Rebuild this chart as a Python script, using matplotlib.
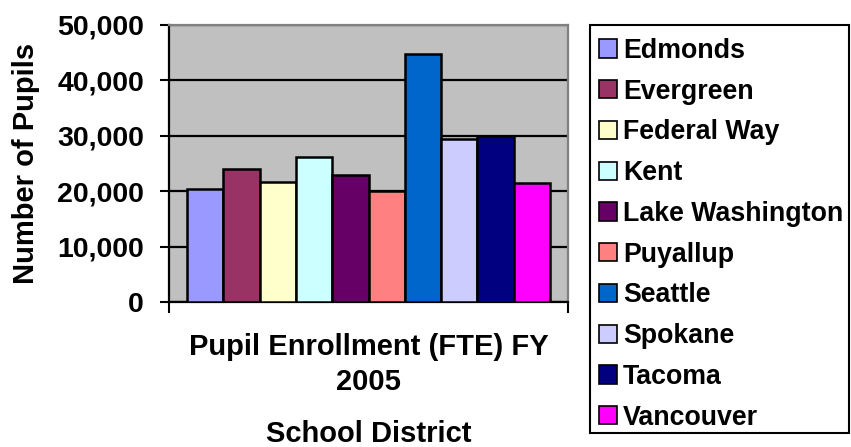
import matplotlib
matplotlib.use('Agg')
import matplotlib.pyplot as plt
from matplotlib.patches import Patch, Rectangle

districts = ['Edmonds', 'Evergreen', 'Federal Way', 'Kent', 'Lake Washington',
             'Puyallup', 'Seattle', 'Spokane', 'Tacoma', 'Vancouver']
pupils = [20400, 24000, 21700, 26200, 23000, 20000, 44700, 29500, 30000, 21400]
colors = ['#9999FF', '#993366', '#FFFFCC', '#CCFFFF', '#660066',
          '#FF8080', '#0066CC', '#CCCCFF', '#000080', '#FF00FF']
y_ticks = [0, 10000, 20000, 30000, 40000, 50000]
y_tick_labels = ['0', '10,000', '20,000', '30,000', '40,000', '50,000']
category = 'Pupil Enrollment (FTE) FY\n2005'

plt.rcParams['font.family'] = ['Liberation Sans', 'DejaVu Sans']
plt.rcParams['font.weight'] = 'bold'

W, H = 851, 447
fig = plt.figure(figsize=(W / 100, H / 100), dpi=100)
ax = fig.add_axes([169 / W, 1 - 302 / H, 399 / W, 277 / H])
ax.set_facecolor('#C0C0C0')

# one category, ten series side by side
for i, (name, val, c) in enumerate(zip(districts, pupils, colors)):
    ax.bar(i, val, width=1.0, color=c, edgecolor='black', linewidth=1.8,
           label=name, zorder=3)

ax.set_xlim(-1, 10)
ax.set_ylim(0, 50000)
ax.set_yticks(y_ticks)
ax.set_yticklabels(y_tick_labels, fontsize=20.5, fontweight='bold')
ax.yaxis.grid(True, color='black', linewidth=1.6, zorder=1)
ax.set_axisbelow(True)

ax.set_xticks([4.5])
ax.set_xticklabels([category], fontsize=21, fontweight='bold',
                   linespacing=1.32)
ax.set_xticks([-1, 10], minor=True)
ax.tick_params(axis='x', which='major', length=0, pad=22)
ax.tick_params(axis='x', which='minor', length=8, width=1.5, direction='out')
ax.tick_params(axis='y', length=6.5, width=1.5, pad=11.5)

ax.set_xlabel('School District', fontsize=21, fontweight='bold', va='baseline')
ax.xaxis.set_label_coords(368.5 / W, 1 - 442 / H, transform=fig.transFigure)
ax.set_ylabel('Number of Pupils', fontsize=21, fontweight='bold', labelpad=12)

for side in ['left', 'bottom']:
    ax.spines[side].set_color('black')
    ax.spines[side].set_linewidth(1.6)
for side in ['top', 'right']:
    ax.spines[side].set_color('#808080')
    ax.spines[side].set_linewidth(1.6)

handles = [Patch(facecolor=c, edgecolor='black', linewidth=1.2) for c in colors]
leg = fig.legend(handles, districts, loc='upper left',
                 bbox_to_anchor=(589 / W, 1 - 28 / H),
                 prop={'weight': 'bold', 'size': 19.3},
                 handlelength=0.67, handleheight=0.67, handletextpad=0.22,
                 labelspacing=0.55, borderpad=0.37, borderaxespad=0,
                 frameon=False)
fig.add_artist(Rectangle((590 / W, 1 - 433 / H), 259 / W, 408 / H,
                         transform=fig.transFigure, fill=False,
                         edgecolor='black', linewidth=1.5))

fig.savefig('out.png', dpi=100)
